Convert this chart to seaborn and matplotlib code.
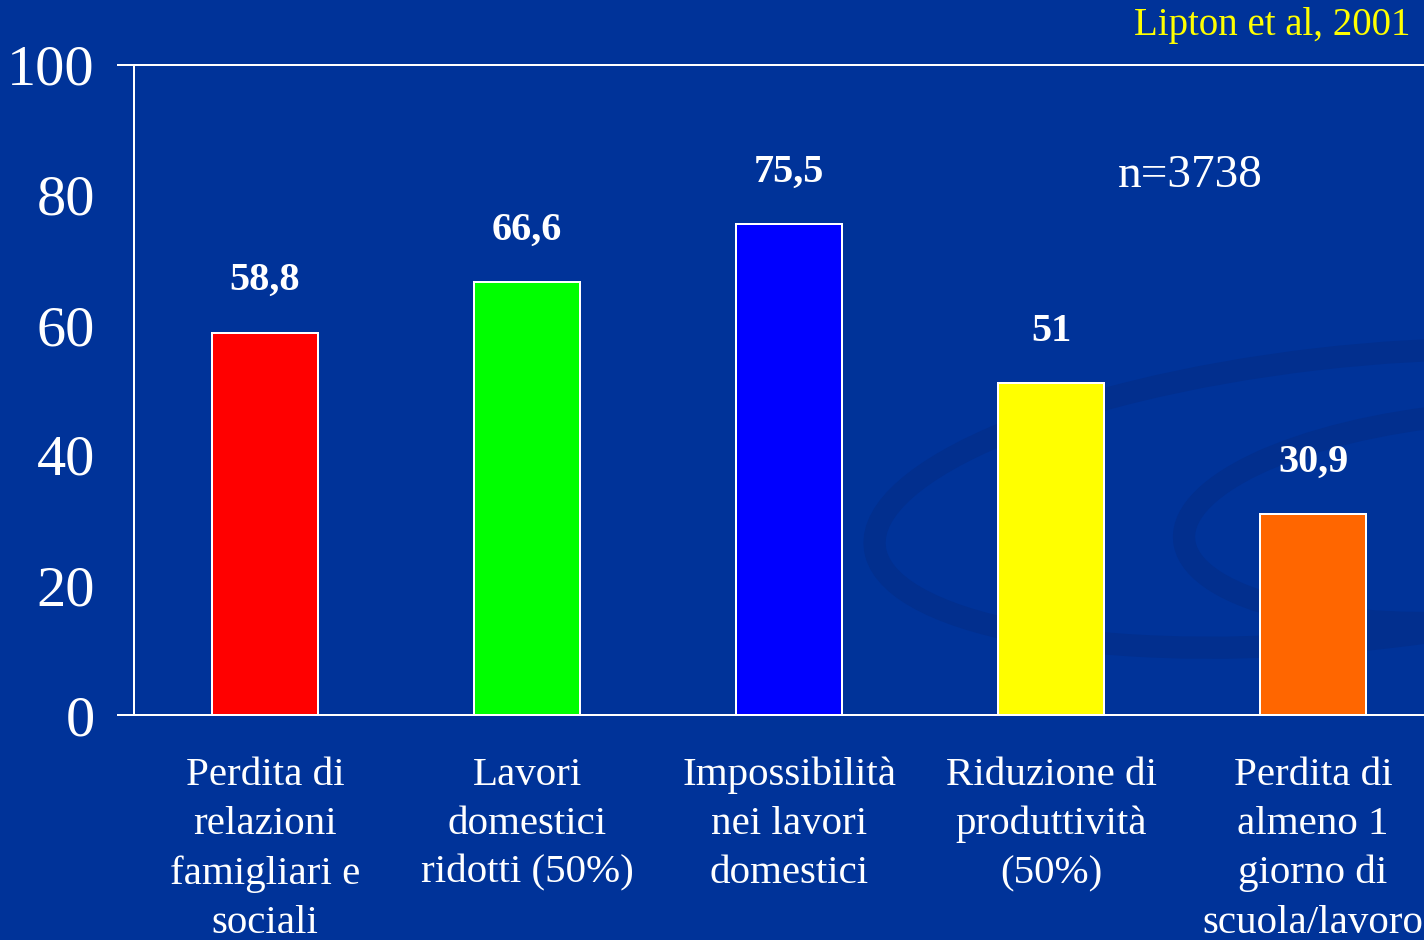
import matplotlib
matplotlib.use("Agg")
import matplotlib.pyplot as plt
from matplotlib.patches import Ellipse
import seaborn as sns
import pandas as pd

sns.set_style("white")
plt.rcParams['font.family'] = ['Liberation Serif', 'DejaVu Serif']

# dati
categorie = ["Perdita di\nrelazioni\nfamigliari e\nsociali",
             "Lavori\ndomestici\nridotti (50%)",
             "Impossibilità\nnei lavori\ndomestici",
             "Riduzione di\nproduttività\n(50%)",
             "Perdita di\nalmeno 1\ngiorno di\nscuola/lavoro"]
valori = [58.8, 66.6, 75.5, 51, 30.9]
etichette = ["58,8", "66,6", "75,5", "51", "30,9"]
colori = ["#FF0000", "#00FF00", "#0000FF", "#FFFF00", "#FF6600"]
y_ticks = [0, 20, 40, 60, 80, 100]

sfondo = "#003399"
px = 72 / 100  # pixel -> punti
df = pd.DataFrame({"cat": categorie, "val": valori})

fig = plt.figure(figsize=(14.24, 9.40), dpi=100, facecolor=sfondo)

# decorazione di sfondo (swirl)
for (cx, cy, w, h, ang) in [(0.95, 0.47, 0.68, 0.30, 10), (1.04, 0.45, 0.42, 0.22, 8)]:
    e = Ellipse((cx, cy), w, h, angle=ang, transform=fig.transFigure,
                fill=False, edgecolor="#022f8e", linewidth=16, zorder=-5)
    fig.patches.append(e)

ax = fig.add_axes([134 / 1424, 225 / 940, 1310 / 1424, 650 / 940])
ax.set_facecolor("none")
ax.set_zorder(1)

sns.barplot(data=df, x="cat", y="val", hue="cat", palette=colori, legend=False,
            saturation=1, width=0.405, edgecolor="white", linewidth=2 * px,
            ax=ax, zorder=3)

for i, (v, t) in enumerate(zip(valori, etichette)):
    ax.annotate(t, (i, v), xytext=(0, 52), textcoords="offset pixels",
                ha="center", va="center", color="white", fontsize=29, fontweight="bold")

ax.set_ylim(0, 100)
ax.set_xlim(-0.5, 4.5)
ax.set_yticks(y_ticks)
ax.set_yticklabels([str(t) for t in y_ticks], fontsize=42, color="white")
ax.set_xticks(range(len(categorie)))
ax.set_xticklabels(categorie, fontsize=29.5, color="white", linespacing=1.43, va="top")
ax.tick_params(axis="x", length=0, pad=30)
ax.set_xticks([-0.5, 0.5, 1.5, 2.5, 3.5], minor=True)
ax.tick_params(axis="x", which="minor", length=12 * px, width=2 * px, color="white",
               direction="out")
ax.tick_params(axis="y", length=16 * px, width=2 * px, color="white", direction="out",
               pad=23 * px)
ax.set_xlabel("")
ax.set_ylabel("")

for s in ["left", "bottom", "top"]:
    ax.spines[s].set_color("white")
    ax.spines[s].set_linewidth(2 * px)
ax.spines["right"].set_visible(False)
ax.spines["bottom"].set_bounds(-0.5 - 16 / 262, 4.5)
ax.spines["top"].set_bounds(-0.5 - 16 / 262, 4.5)
ax.spines["bottom"].set_clip_on(False)
ax.spines["top"].set_clip_on(False)

ax.text(3.53, 83, "n=3738", color="white", fontsize=34, ha="center", va="center")
fig.text(1410 / 1424, 1 - 25 / 940, "Lipton et al, 2001", color="#FFFF00",
         fontsize=28, ha="right", va="center")

fig.savefig("out.png", dpi=100, facecolor=sfondo)
